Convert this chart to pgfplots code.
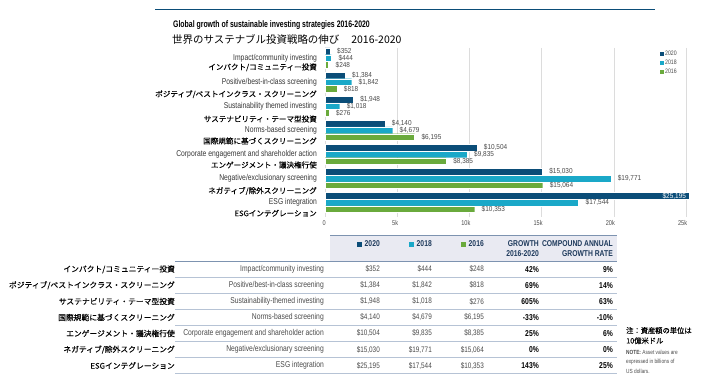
\documentclass[border=0pt]{standalone}
\usepackage{pgfplots}
\pgfplotsset{compat=1.18}
\usepackage{fontspec}
\setmainfont{Liberation Sans}
\newfontfamily\condA[FakeStretch=0.8]{Liberation Sans}
\newfontfamily\condB[FakeStretch=0.9]{Liberation Sans}
\newfontfamily\condT[FakeStretch=0.73]{Liberation Sans}
\newfontfamily\jp{Noto Sans CJK JP}
\newfontfamily\jpb[FakeBold=0.1]{Noto Sans CJK JP}
\definecolor{c20}{HTML}{0B4D78}
\definecolor{c18}{HTML}{1AA8C8}
\definecolor{c16}{HTML}{6AAA3C}
\definecolor{txt}{HTML}{4A4A4A}
\definecolor{txtd}{HTML}{363636}
\definecolor{hdrbg}{HTML}{E9EAF2}
\definecolor{navy}{HTML}{1E3A5C}
\definecolor{rulec}{HTML}{B6C3D5}
\definecolor{rulek}{HTML}{7D93B0}
\definecolor{gridc}{HTML}{DCDCDC}
\newcommand\chEn{\condA\fontsize{8.5}{10}\selectfont}
\newcommand\jpC{\jpb\fontsize{7.6}{9}\selectfont}
\newcommand\valf{\condB\fontsize{7.2}{8}\selectfont}
\newcommand\tickf{\condA\fontsize{7}{8}\selectfont}
\newcommand\tabEn{\condA\fontsize{8.5}{10}\selectfont}
\newcommand\tabV{\condA\fontsize{8}{10}\selectfont}
\newcommand\tabP{\condA\bfseries\fontsize{8.5}{10}\selectfont}
\newcommand\hdrf{\condA\bfseries\fontsize{8.5}{10}\selectfont}
\newcommand\jpT{\jpb\fontsize{7.8}{9}\selectfont}
\newcommand\trow[8]{%
  \node[anchor=east,inner sep=0pt,font=\jpT] at (175,#1) {#2};
  \node[anchor=east,inner sep=0pt,font=\tabEn,text=txt] at (324,#1) {#3};
  \node[anchor=east,inner sep=0pt,font=\tabV,text=txt] at (380,#1) {#4};
  \node[anchor=east,inner sep=0pt,font=\tabV,text=txt] at (432,#1) {#5};
  \node[anchor=east,inner sep=0pt,font=\tabV,text=txt] at (484,#1) {#6};
  \node[anchor=east,inner sep=0pt,font=\tabP,text=black] at (539,#1) {#7};
  \node[anchor=east,inner sep=0pt,font=\tabP,text=black] at (613,#1) {#8};
}
\begin{document}
\begin{tikzpicture}
\path (0,0) rectangle (720bp,-385bp);
\begin{scope}[x=1bp,y=-1bp]
\draw[c20, line width=1.2bp] (155,9.5) -- (655,9.5);
\node[anchor=west, inner sep=0pt, font=\condT\bfseries\fontsize{9.5}{11}\selectfont] at (173,25) {Global growth of sustainable investing strategies 2016-2020};
\node[anchor=west, inner sep=0pt, font=\jp\fontsize{10.5}{12}\selectfont] at (172,39.5) {世界のサステナブル投資戦略の伸び\hspace{12bp}2016-2020};
% table
\fill[hdrbg] (330,235) rectangle (617,260.5);
\draw[rulek, line width=1bp] (330,235) -- (617,235);
\draw[rulek, line width=1bp] (175,261) -- (617,261);
\foreach \i in {1,...,7} {\draw[rulec, line width=0.8bp] (175,261+16.07*\i) -- (617,261+16.07*\i);}
\node[anchor=east,inner sep=0pt,font=\hdrf,text=navy] at (380,244) {\textcolor{c20}{\rule{5bp}{5bp}}\hspace{3bp}2020};
\node[anchor=east,inner sep=0pt,font=\hdrf,text=navy] at (432,244) {\textcolor{c18}{\rule{5bp}{5bp}}\hspace{3bp}2018};
\node[anchor=east,inner sep=0pt,font=\hdrf,text=navy] at (484,244) {\textcolor{c16}{\rule{5bp}{5bp}}\hspace{3bp}2016};
\node[anchor=east,inner sep=0pt,font=\hdrf,text=navy] at (539,244) {GROWTH};
\node[anchor=east,inner sep=0pt,font=\hdrf,text=navy] at (539,253.3) {2016-2020};
\node[anchor=east,inner sep=0pt,font=\hdrf,text=navy] at (613,244) {COMPOUND ANNUAL};
\node[anchor=east,inner sep=0pt,font=\hdrf,text=navy] at (613,253.3) {GROWTH RATE};
\trow{269.3}{インパクト/コミュニティー投資}{Impact/community investing}{\$352}{\$444}{\$248}{42\%}{9\%}
\trow{285.3}{ポジティブ/ベストインクラス・スクリーニング}{Positive/best-in-class screening}{\$1,384}{\$1,842}{\$818}{69\%}{14\%}
\trow{301.4}{サステナビリティ・テーマ型投資}{Sustainability-themed investing}{\$1,948}{\$1,018}{\$276}{605\%}{63\%}
\trow{317.5}{国際規範に基づくスクリーニング}{Norms-based screening}{\$4,140}{\$4,679}{\$6,195}{-33\%}{-10\%}
\trow{333.5}{エンゲージメント・議決権行使}{Corporate engagement and shareholder action}{\$10,504}{\$9,835}{\$8,385}{25\%}{6\%}
\trow{349.6}{ネガティブ/除外スクリーニング}{Negative/exclusionary screening}{\$15,030}{\$19,771}{\$15,064}{0\%}{0\%}
\trow{365.7}{ESGインテグレーション}{ESG integration}{\$25,195}{\$17,544}{\$10,353}{143\%}{25\%}
% note
\node[anchor=west,inner sep=0pt,font=\jpb\fontsize{7.3}{9}\selectfont] at (626,330.5) {注：資産額の単位は};
\node[anchor=west,inner sep=0pt,font=\jpb\fontsize{7.3}{9}\selectfont] at (626,340.7) {10億米ドル};
\node[anchor=west,inner sep=0pt,font=\condA\fontsize{6}{7}\selectfont,text=txt] at (626,352.7) {\textbf{NOTE:} Asset values are};
\node[anchor=west,inner sep=0pt,font=\condA\fontsize{6}{7}\selectfont,text=txt] at (626,362.4) {expressed in billions of};
\node[anchor=west,inner sep=0pt,font=\condA\fontsize{6}{7}\selectfont,text=txt] at (626,371.7) {US dollars.};
\end{scope}
\begin{axis}[
  at={(325bp,-217bp)}, anchor=south west,
  scale only axis, width=383bp, height=169bp,
  xbar, bar width=0.278,
  xmin=0, xmax=26500, ymin=-0.415, ymax=6.6, y dir=reverse,
  scaled x ticks=false,
  axis line style={draw=none},
  major tick length=0pt,
  xtick={0,5000,10000,15000,20000,25000},
  xticklabels={0,5k,10k,15k,20k,25k},
  xmajorgrids, grid style={gridc, line width=0.8bp},
  ytick={0,1,2,3,4,5,6},
  yticklabels={Impact/community investing,Positive/best-in-class screening,Sustainability themed investing,Norms-based screening,Corporate engagement and shareholder action,Negative/exclusionary screening,ESG integration},
  extra y ticks={0.386,1.506,2.531,3.444,4.440,5.519,6.444},
  extra y tick labels={インパクト/コミュニティー投資,ポジティブ/ベストインクラス・スクリーニング,サステナビリティ・テーマ型投資,国際規範に基づくスクリーニング,エンゲージメント・議決権行使,ネガティブ/除外スクリーニング,ESGインテグレーション},
  extra y tick style={yticklabel style={font=\jpC, text=black}},
  yticklabel style={anchor=east, inner sep=0pt, xshift=-8bp, font=\chEn, text=txtd},
  xticklabel style={anchor=north east, inner sep=0pt, yshift=-3bp, xshift=1bp, font=\tickf, text=txt},
  nodes near coords, point meta=explicit symbolic,
  every node near coord/.append style={anchor=west, inner sep=0pt, xshift=7bp, font=\valf, text=txt},
  legend style={at={(0.872,0.99)}, anchor=north west, draw=none, fill=none, inner sep=0pt, row sep=1.5bp, font=\condA\fontsize{6.5}{7}\selectfont, text=txt, nodes={inner sep=0.8bp}},
  legend cell align=left,
  legend image code/.code={\fill[#1] (0bp,-2.5bp) rectangle (5bp,2.5bp);},
  clip=false,
]
\addplot[fill=c20, draw=white, line width=0.2bp, bar shift=-0.278] coordinates {
 (352,0) [\$352] (1384,1) [\$1,384] (1948,2) [\$1,948] (4140,3) [\$4,140] (10504,4) [\$10,504] (15030,5) [\$15,030] (25195,6) [\relax]};
\addplot[fill=c18, draw=white, line width=0.2bp, bar shift=0] coordinates {
 (444,0) [\$444] (1842,1) [\$1,842] (1018,2) [\$1,018] (4679,3) [\$4,679] (9835,4) [\$9,835] (19771,5) [\$19,771] (17544,6) [\$17,544]};
\addplot[fill=c16, draw=white, line width=0.2bp, bar shift=0.278] coordinates {
 (248,0) [\$248] (818,1) [\$818] (276,2) [\$276] (6195,3) [\$6,195] (8385,4) [\$8,385] (15064,5) [\$15,064] (10353,6) [\$10,353]};
\legend{2020,2018,2016}
\node[anchor=east, inner sep=0pt, xshift=-3bp, font=\valf, text=white] at (axis cs:25195,5.722) {\$25,195};
\end{axis}
\end{tikzpicture}
\end{document}
